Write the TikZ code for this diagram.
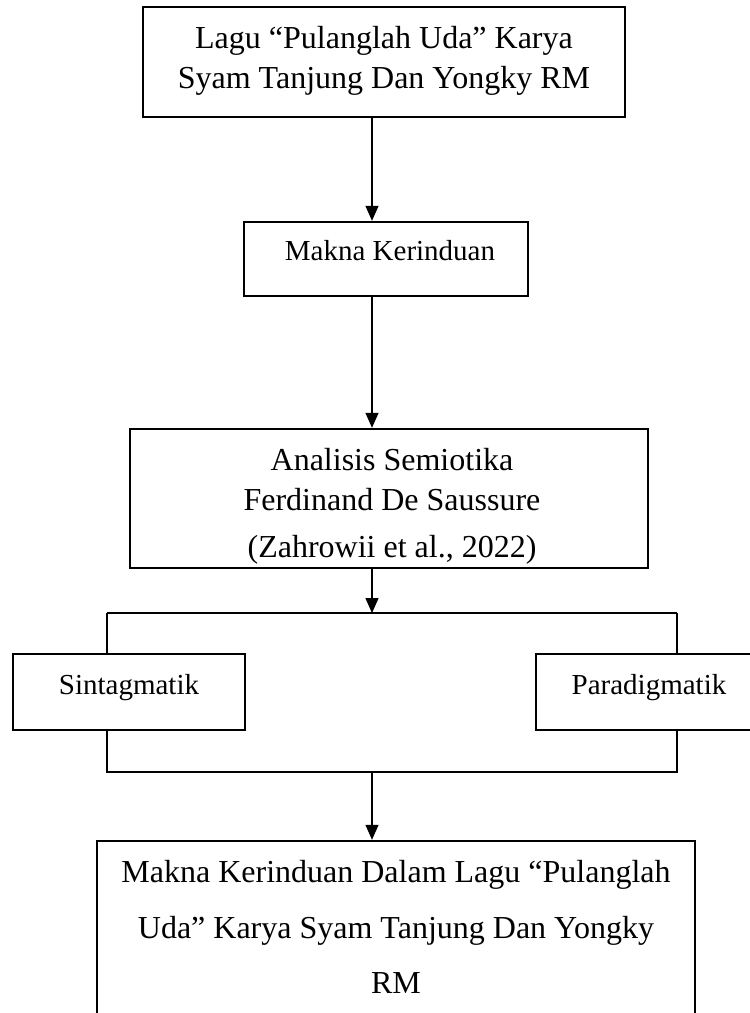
\documentclass[tikz,border=0pt]{standalone}
\usepackage{fontspec}
\setmainfont{Liberation Serif}
\usetikzlibrary{arrows.meta}
\begin{document}
\begin{tikzpicture}[x=1pt,y=-1pt,
  box/.style={draw, line width=2.4pt, rectangle, inner sep=0pt},
  txt/.style={anchor=base, inner sep=0pt, font=\fontsize{29}{35}\selectfont},
  bigtxt/.style={anchor=base, inner sep=0pt, font=\fontsize{32}{38}\selectfont},
  conn/.style={line width=1.3pt},
  arr/.style={conn, -{Triangle[width=13pt,length=15pt]}}]
\clip (0,0) rectangle (750,1013);
\fill[white] (0,0) rectangle (750,1013);
% boxes
\node[box, minimum width=482pt, minimum height=110pt] (b1) at (384,62) {};
\node[box, minimum width=284pt, minimum height=74pt] (b2) at (386,259) {};
\node[box, minimum width=518pt, minimum height=139pt] (b3) at (389,498.5) {};
\node[box, minimum width=232pt, minimum height=76pt] (sb) at (129,692) {};
\node[box, minimum width=228pt, minimum height=76pt] (pb) at (650,692) {};
\node[box, minimum width=598pt, minimum height=189pt] (b4) at (396,935.5) {};
% texts
\node[bigtxt] (t1a) at (384,48) {Lagu “Pulanglah Uda” Karya};
\node[bigtxt] (t1b) at (384,88) {Syam Tanjung Dan Yongky RM};
\node[txt] (t2) at (390,260) {Makna Kerinduan};
\node[bigtxt] (t3a) at (392,470) {Analisis Semiotika};
\node[bigtxt] (t3b) at (392,510) {Ferdinand De Saussure};
\node[bigtxt] (t3c) at (392,557) {(Zahrowii et al., 2022)};
\node[txt] (ts) at (129,694) {Sintagmatik};
\node[txt] (tp) at (649,694) {Paradigmatik};
\node[bigtxt] (t4a) at (396,882) {Makna Kerinduan Dalam Lagu “Pulanglah};
\node[bigtxt] (t4b) at (396,938) {Uda” Karya Syam Tanjung Dan Yongky};
\node[bigtxt] (t4c) at (396,993) {RM};
% connectors
\coordinate (ax) at (372,0);
\coordinate (sl) at (107,613);
\coordinate (sr) at (677,613);
\coordinate (jl) at (107,772);
\coordinate (jr) at (677,772);
\coordinate (jm) at (372,772);
\draw[arr] (b1.south -| ax) -- (b2.north -| ax);
\draw[arr] (b2.south -| ax) -- (b3.north -| ax);
\draw[arr] (b3.south -| ax) -- (sl -| ax);
\draw[conn] (sl) -- (sr);
\draw[conn] (sl) -- (sl |- sb.north);
\draw[conn] (sr) -- (sr |- pb.north);
\draw[conn] (jl |- sb.south) -- (jl) -- (jr) -- (jr |- pb.south);
\draw[arr] (jm) -- (b4.north -| jm);
\end{tikzpicture}
\end{document}
